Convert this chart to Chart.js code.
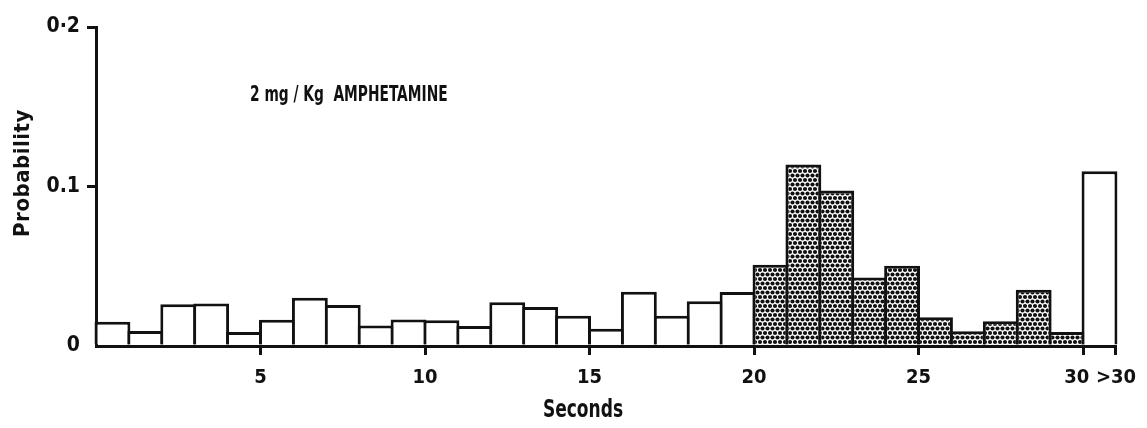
<!DOCTYPE html>
<html>
<head>
<meta charset="utf-8">
<script src="https://cdn.jsdelivr.net/npm/chart.js@4.4.1/dist/chart.umd.min.js"></script>
<style>
  html, body { margin: 0; padding: 0; background: #fff; }
  #wrap { width: 1147px; height: 428px; position: relative; }
</style>
</head>
<body>
<div id="wrap"><canvas id="chart" width="1147" height="428"></canvas></div>
<script>
// One-second bins of the interval; the last bin collects everything over 30 s.
const binStarts = [0, 1, 2, 3, 4, 5, 6, 7, 8, 9, 10, 11, 12, 13, 14, 15, 16, 17, 18, 19,
                   20, 21, 22, 23, 24, 25, 26, 27, 28, 29, 30];
const probability = [0.0152, 0.0094, 0.0262, 0.0267, 0.0088, 0.0165, 0.0302, 0.0257,
                     0.0128, 0.0166, 0.0162, 0.0125, 0.0275, 0.0245, 0.0190, 0.0108,
                     0.0340, 0.0190, 0.0280, 0.0338, 0.0510, 0.1138, 0.0975, 0.0430,
                     0.0503, 0.0180, 0.0093, 0.0155, 0.0352, 0.0087, 0.1095];
// Bins drawn with the dotted screen (20–30 s)
const shadedBins = [20, 21, 22, 23, 24, 25, 26, 27, 28, 29];
const xTickValues = [5, 10, 15, 20, 25, 30, 31];
const xTickLabels = ['5', '10', '15', '20', '25', '30  ', '>30'];
const yTickValues = [0, 0.1, 0.2];
const yTickLabels = ['0', '0.1', '0·2'];
const doseLabel = '2 mg / Kg  AMPHETAMINE';
const xTitle = 'Seconds';
const yTitle = 'Probability';

const ink = '#111111';
const family = "'DejaVu Sans Condensed', 'Liberation Sans Narrow', sans-serif";
const lineW = 3;

const canvas = document.getElementById('chart');
const ctx = canvas.getContext('2d');

// Dotted half-tone screen: black dots in offset rows on white
function dotScreen() {
  const w = 5, h = 9, r = 2.1;
  const t = document.createElement('canvas');
  t.width = w; t.height = h;
  const g = t.getContext('2d');
  g.fillStyle = '#ffffff';
  g.fillRect(0, 0, w, h);
  g.fillStyle = ink;
  [[0, 0], [w, 0], [0, h], [w, h], [w / 2, h / 2]].forEach(([x, y]) => {
    g.beginPath();
    g.arc(x, y, r, 0, Math.PI * 2);
    g.fill();
  });
  return ctx.createPattern(t, 'repeat');
}
const screen = dotScreen();

const points = binStarts.map((s, i) => ({ x: s + 0.5, y: probability[i] }));
const fills = binStarts.map(s => shadedBins.includes(s) ? screen : '#ffffff');

// Narrow bold lettering, squeezed horizontally
function narrowText(c, text, x, y, size, squeeze, align, baseline, spacing) {
  c.save();
  c.font = `bold ${size}px ${family}`;
  c.textAlign = align;
  c.textBaseline = baseline;
  c.letterSpacing = spacing || '0px';
  c.translate(x, y);
  c.scale(squeeze, 1);
  c.fillText(text, 0, 0);
  c.restore();
}

// Free text: dose label and both axis titles
const textLayer = {
  id: 'textLayer',
  afterDraw(chart) {
    const c = chart.ctx;
    const a = chart.chartArea;
    c.save();
    c.fillStyle = ink;
    narrowText(c, doseLabel, a.left + 154, a.top + 74, 21, 0.73, 'left', 'alphabetic');
    narrowText(c, xTitle, a.left + 487, a.bottom + 65, 24, 0.79, 'center', 'middle');
    c.translate(a.left - 73, a.top + 146);
    c.rotate(-Math.PI / 2);
    narrowText(c, yTitle, 0, 0, 22, 1, 'center', 'middle', '0.5px');
    c.restore();
  }
};

new Chart(ctx, {
  type: 'bar',
  data: {
    datasets: [{
      data: points,
      backgroundColor: fills,
      borderColor: ink,
      borderWidth: lineW,
      borderSkipped: 'start',
      barPercentage: 1.09,
      categoryPercentage: 1,
      clip: 6
    }]
  },
  options: {
    responsive: false,
    animation: false,
    events: [],
    layout: { padding: { top: 27, right: 29, left: 0, bottom: 0 } },
    plugins: {
      legend: { display: false },
      tooltip: { enabled: false },
      title: { display: false }
    },
    scales: {
      x: {
        type: 'linear',
        min: 0,
        max: 31,
        offset: false,
        afterBuildTicks: s => { s.ticks = xTickValues.map(v => ({ value: v })); },
        afterFit: s => { s.height = 82; },
        ticks: {
          autoSkip: false,
          maxRotation: 0,
          padding: 11,
          color: ink,
          font: { family, size: 20, weight: 'bold' },
          callback: (v, i) => xTickLabels[i]
        },
        grid: {
          offset: false,
          drawOnChartArea: false,
          drawTicks: true,
          tickLength: 9,
          color: ink,
          lineWidth: lineW
        },
        border: { display: true, color: ink, width: lineW }
      },
      y: {
        type: 'linear',
        min: 0,
        max: 0.2,
        afterBuildTicks: s => { s.ticks = yTickValues.map(v => ({ value: v })); },
        afterFit: s => { s.width = 96; },
        ticks: {
          padding: 7,
          color: ink,
          font: { family, size: 21, weight: 'bold' },
          callback: (v, i) => yTickLabels[i]
        },
        grid: {
          drawOnChartArea: false,
          drawTicks: true,
          tickLength: 9,
          color: c => (c.tick && c.tick.value === 0) ? 'rgba(0,0,0,0)' : ink,
          lineWidth: lineW
        },
        border: { display: true, color: ink, width: lineW }
      }
    }
  },
  plugins: [textLayer]
});
</script>
</body>
</html>
